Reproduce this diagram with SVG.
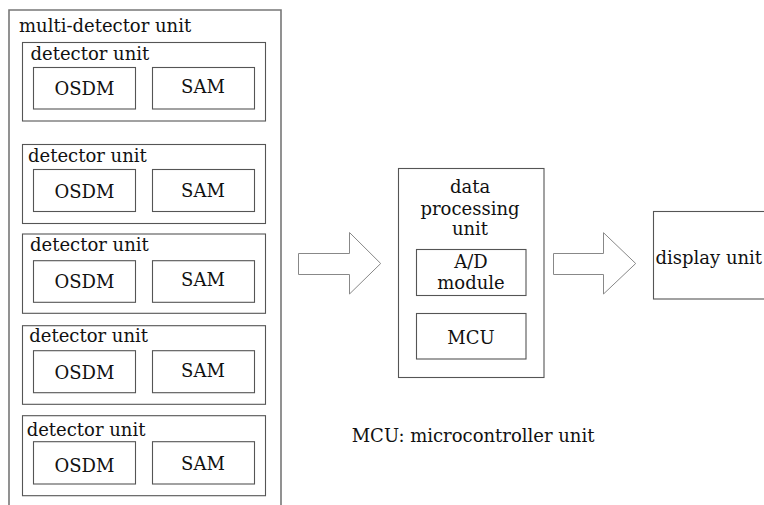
<svg xmlns="http://www.w3.org/2000/svg" width="764" height="505" viewBox="0 0 764 505">
<style>
text{font-family:"DejaVu Serif","Liberation Serif",serif;font-size:18px;fill:#111}
.c{text-anchor:middle}
.outer{fill:none;stroke:#777;stroke-width:1.6}
.box{fill:#fff;stroke:#555;stroke-width:1.1}
.arrow{fill:#fff;stroke:#888;stroke-width:1}
</style>
<rect width="764" height="505" fill="#fff"/>
<g id="multi-detector-unit">
<path class="outer" d="M9,510 V10 H281 V510"/>
<text x="19" y="32">multi-detector unit</text>
</g>
<g id="detector-unit-1">
<rect class="box" x="22.5" y="42.5" width="243" height="78.5"/>
<text x="30.5" y="59.5">detector unit</text>
<rect class="box" x="33.5" y="67.5" width="102" height="41.5"/>
<text class="c" x="84.5" y="95">OSDM</text>
<rect class="box" x="152.5" y="67.5" width="102" height="41.5"/>
<text class="c" x="203" y="92.7">SAM</text>
</g>
<g id="detector-unit-2">
<rect class="box" x="22.5" y="144.5" width="243" height="79"/>
<text x="28" y="162">detector unit</text>
<rect class="box" x="33.5" y="169.5" width="102" height="42"/>
<text class="c" x="84.5" y="198">OSDM</text>
<rect class="box" x="152.5" y="169.5" width="102" height="42"/>
<text class="c" x="203" y="196.7">SAM</text>
</g>
<g id="detector-unit-3">
<rect class="box" x="22.5" y="234" width="243" height="79.3"/>
<text x="30" y="251">detector unit</text>
<rect class="box" x="33.5" y="260.7" width="102" height="41.6"/>
<text class="c" x="84.5" y="288.3">OSDM</text>
<rect class="box" x="152.5" y="260.7" width="102" height="41.6"/>
<text class="c" x="203" y="286">SAM</text>
</g>
<g id="detector-unit-4">
<rect class="box" x="22.5" y="325.7" width="243" height="78.6"/>
<text x="29.3" y="342.3">detector unit</text>
<rect class="box" x="33.5" y="350.7" width="102" height="42"/>
<text class="c" x="84.5" y="378.7">OSDM</text>
<rect class="box" x="152.5" y="350.7" width="102" height="42"/>
<text class="c" x="203" y="376.7">SAM</text>
</g>
<g id="detector-unit-5">
<rect class="box" x="22.5" y="415.7" width="243" height="80"/>
<text x="26.7" y="436">detector unit</text>
<rect class="box" x="33.5" y="441.7" width="102" height="42.3"/>
<text class="c" x="84.5" y="471.7">OSDM</text>
<rect class="box" x="152.5" y="441.7" width="102" height="42.3"/>
<text class="c" x="203" y="470">SAM</text>
</g>
<g id="connectors">
<polygon class="arrow" points="298.5,253.5 349.5,253.5 349.5,232.5 380.7,263.5 349.5,294 349.5,274.5 298.5,274.5"/>
<polygon class="arrow" points="553.5,253.5 603.5,253.5 603.5,232.7 635.7,263.5 603.5,294 603.5,274.5 553.5,274.5"/>
</g>
<g id="data-processing-unit">
<rect class="box" x="398.5" y="168.5" width="145.5" height="209"/>
<text class="c" x="470" y="193.3">data</text>
<text class="c" x="470" y="215">processing</text>
<text class="c" x="470" y="235">unit</text>
</g>
<g id="ad-module">
<rect class="box" x="416.5" y="249.5" width="109.5" height="46"/>
<text class="c" x="471" y="268.3">A/D</text>
<text class="c" x="471" y="289.3">module</text>
</g>
<g id="mcu">
<rect class="box" x="416.5" y="313.5" width="109.5" height="45.5"/>
<text class="c" x="471" y="344.3">MCU</text>
</g>
<g id="display-unit">
<rect class="box" x="653.5" y="211.5" width="120" height="87.5"/>
<text x="655.5" y="264">display unit</text>
</g>
<g id="caption">
<text x="351.7" y="441.7">MCU: microcontroller unit</text>
</g>
</svg>
